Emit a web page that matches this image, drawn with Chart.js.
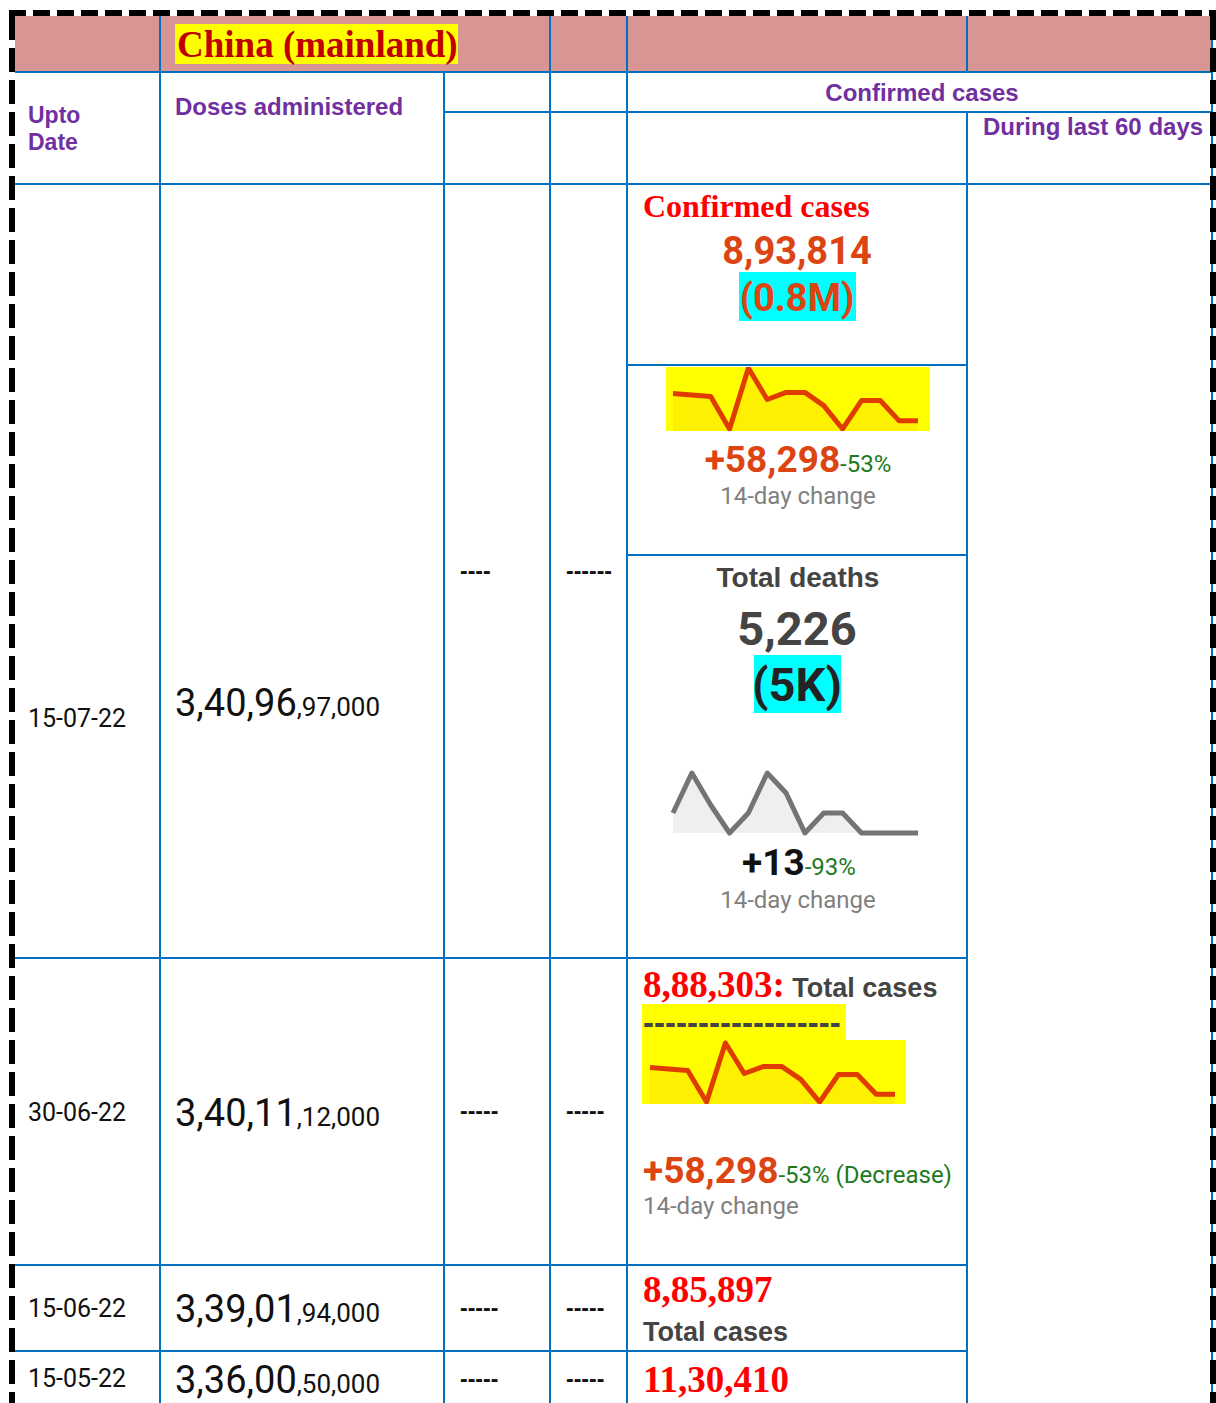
<!DOCTYPE html>
<html><head><meta charset="utf-8">
<script src="https://cdn.jsdelivr.net/npm/chart.js@4.4.1/dist/chart.umd.min.js"></script>
<style>
html,body{margin:0;padding:0;background:#fff;}
body{width:1216px;height:1403px;position:relative;overflow:hidden;font-family:Roboto,"Liberation Sans",sans-serif;}
.a{position:absolute;white-space:nowrap;line-height:1;}
.box{position:absolute;}
</style></head><body>
<script>
// ---------- DATA ----------
const countryTitle = 'China (mainland)';
const rowDates   = ['15-07-22', '30-06-22', '15-06-22', '15-05-22'];
const dosesMain  = ['3,40,96', '3,40,11', '3,39,01', '3,36,00'];
const dosesTail  = [',97,000', ',12,000', ',94,000', ',50,000'];
const col3Dashes = ['----', '-----', '-----', '-----'];
const col4Dashes = ['------', '-----', '-----', '-----'];
const totalCases = ['8,93,814', '8,88,303', '8,85,897', '11,30,410'];
const casesShort = '(0.8M)';
const totalDeaths = '5,226';
const deathsShort = '(5K)';
const caseChange = '+58,298', caseChangePct = '-53%';
const deathChange = '+13', deathChangePct = '-93%';
// 14-day sparklines (relative daily values)
const sparkDays = ['d1','d2','d3','d4','d5','d6','d7','d8','d9','d10','d11','d12','d13','d14'];
const dailyCasesRel = [37, 35.5, 34, 2, 62, 31, 38, 38, 25, 2, 30, 30, 10, 10];
const dailyDeaths   = [1, 3, 1.4, 0, 1, 3, 2, 0, 1, 1, 0, 0, 0, 0];

// ---------- LAYOUT ----------
const BLUE = '#0070c0', PURPLE = '#7030a0', ORANGE = '#dc4412', GREEN = '#1d7a1d', GRAY = '#808080', DARK = '#444';
const M = { R:{asc:0.842,cap:0.711,f:'Roboto'}, A:{asc:0.8465,cap:0.716,f:'"Liberation Sans",Arial'}, S:{asc:0.8375,cap:0.662,f:'"Liberation Serif","Times New Roman"'} };

function box(x, y, w, h, bg) {
  const d = document.createElement('div');
  d.className = 'box';
  d.style.cssText = `left:${x}px;top:${y}px;width:${w}px;height:${h}px;background:${bg};`;
  document.body.appendChild(d); return d;
}
function T(x, cy, html, size, fam, weight, color, align) {
  const m = M[fam];
  const base = cy + m.cap * size / 2;
  const d = document.createElement('div');
  d.className = 'a';
  d.style.cssText = `left:${x}px;top:${base - m.asc*size}px;font-family:${m.f};font-size:${size}px;font-weight:${weight};color:${color};` +
    (align === 'center' ? 'transform:translateX(-50%);' : '');
  d.innerHTML = html;
  document.body.appendChild(d); return d;
}
function TB(x, base, html, size, fam, weight, color) {
  const m = M[fam];
  const d = document.createElement('div');
  d.className = 'a';
  d.style.cssText = `left:${x}px;top:${base - m.asc*size}px;font-family:${m.f};font-size:${size}px;font-weight:${weight};color:${color};`;
  d.innerHTML = html;
  document.body.appendChild(d); return d;
}
const hl = (x1, x2, y) => box(x1, y - 1, x2 - x1, 2, BLUE);
const vl = (x, y1, y2) => box(x - 1, y1, 2, y2 - y1, BLUE);

// header band
box(15, 16, 1198, 56, '#d99594');
// grid
hl(15, 1213, 72); hl(444, 1213, 112); hl(15, 1213, 184);
hl(627, 967, 365); hl(627, 967, 555);
hl(15, 967, 958); hl(15, 967, 1265); hl(15, 967, 1351);
vl(160, 16, 1403); vl(444, 72, 1403); vl(550, 16, 1403); vl(627, 16, 1403);
vl(967, 16, 72); vl(967, 112, 1403); vl(1212, 16, 1403);

// header texts
box(175, 24, 283, 40, '#ffff00');
T(177, 45, countryTitle, 37, 'S', 'bold', '#c00000');
T(28, 115, 'Upto', 23, 'A', 'bold', PURPLE);
T(28, 142, 'Date', 23, 'A', 'bold', PURPLE);
T(175, 107, 'Doses administered', 24, 'A', 'bold', PURPLE);
T(922, 93, 'Confirmed cases', 24, 'A', 'bold', PURPLE, 'center');
T(983, 127, 'During last 60 days', 24, 'A', 'bold', PURPLE);

// rows: left columns
const rowDateCY = [718, 1112, 1308, 1378];
const rowDoseBase = [716, 1126, 1322, 1393];
const rowDashCY = [573, 1113, 1310, 1381];
rowDates.forEach((d, i) => {
  T(28, rowDateCY[i], d, 25, 'R', 'normal', '#111');
  TB(175, rowDoseBase[i], dosesMain[i] + `<span style="font-size:26px">${dosesTail[i]}</span>`, 38, 'R', 'normal', '#111');
  const db = rowDashCY[i] + 0.27 * 23;
  TB(460, db, col3Dashes[i], 23, 'A', 'bold', '#111');
  TB(566, db, col4Dashes[i], 23, 'A', 'bold', '#111');
});

// row 1, confirmed cases block
T(643, 206, 'Confirmed cases', 32, 'S', 'bold', '#ff0000');
T(797, 250, totalCases[0], 38, 'R', 'bold', ORANGE, 'center');
box(739, 272, 117, 49, '#00ffff');
T(797, 297, casesShort, 38, 'R', 'bold', ORANGE, 'center');
box(666, 367, 264, 64, '#ffff00');
T(798, 459, caseChange + `<span style="font-size:24px;font-weight:normal;color:${GREEN}">${caseChangePct}</span>`, 37, 'R', 'bold', ORANGE, 'center');
T(798, 496, '14-day change', 24, 'R', 'normal', GRAY, 'center');
T(798, 578, 'Total deaths', 28, 'A', 'bold', DARK, 'center');
T(797, 628, totalDeaths, 47, 'R', 'bold', DARK, 'center');
box(754, 655, 87, 58, '#00ffff');
T(797, 684, deathsShort, 47, 'R', 'bold', '#222', 'center');
T(799, 862, deathChange + `<span style="font-size:24px;font-weight:normal;color:${GREEN}">${deathChangePct}</span>`, 37, 'R', 'bold', '#111', 'center');
T(798, 900, '14-day change', 24, 'R', 'normal', GRAY, 'center');

// row 2
T(643, 985, totalCases[1] + ':<span style="font-family:\'Liberation Sans\',Arial;font-size:27px;color:#444">&nbsp;Total cases</span>', 37, 'S', 'bold', '#ff0000');
box(642, 1004, 204, 36, '#ffff00');
TB(643, 1034, '------------------', 33, 'A', 'bold', DARK);
box(642, 1040, 264, 64, '#ffff00');
T(643, 1170, caseChange + `<span style="font-size:24px;font-weight:normal;color:${GREEN}">${caseChangePct} (Decrease)</span>`, 37, 'R', 'bold', ORANGE);
T(643, 1206, '14-day change', 24, 'R', 'normal', GRAY);

// row 3 / 4
T(643, 1290, totalCases[2], 37, 'S', 'bold', '#ff0000');
T(643, 1332, 'Total cases', 27, 'A', 'bold', DARK);
T(643, 1380, totalCases[3], 37, 'S', 'bold', '#ff0000');

// dashed outer border
box(9, 10, 1207, 6, 'repeating-linear-gradient(90deg,#000 0 17px,transparent 17px 24px)');
box(9, 16, 6, 1387, 'repeating-linear-gradient(180deg,#000 0 24px,transparent 24px 32px)');
box(1210, 16, 6, 1387, 'repeating-linear-gradient(180deg,#000 0 24px,transparent 24px 32px)');

// ---------- SPARKLINES (Chart.js) ----------
function spark(x, y, w, h, data, ymax, color, fill, pad) {
  const wrap = document.createElement('div');
  wrap.style.cssText = `position:absolute;left:${x}px;top:${y}px;width:${w}px;height:${h}px;`;
  const c = document.createElement('canvas');
  c.width = w; c.height = h; c.style.width = w + 'px'; c.style.height = h + 'px';
  wrap.appendChild(c); document.body.appendChild(wrap);
  new Chart(c, {
    type: 'line',
    data: { labels: sparkDays, datasets: [{ data, borderColor: color, backgroundColor: fill, borderWidth: 5,
      fill: 'origin', pointRadius: 0, tension: 0, borderJoinStyle: 'round', borderCapStyle: 'butt', clip: false }] },
    options: { responsive: false, animation: false, devicePixelRatio: 1, layout: { padding: pad },
      plugins: { legend: { display: false }, tooltip: { enabled: false } },
      scales: { x: { display: false, offset: false }, y: { display: false, min: 0, max: ymax } } }
  });
}
spark(666, 367, 264, 64, dailyCasesRel, 63, '#e03c00', 'rgba(235,110,0,0.10)', { left: 7, right: 12, top: 0, bottom: 0 });
spark(666, 766, 264, 70, dailyDeaths, 3, '#747474', 'rgba(150,150,150,0.15)', { left: 7, right: 12, top: 7, bottom: 3 });
spark(642, 1040, 264, 64, dailyCasesRel, 63, '#e03c00', 'rgba(235,110,0,0.10)', { left: 8, right: 11, top: 2, bottom: 0 });
</script>
</body></html>
